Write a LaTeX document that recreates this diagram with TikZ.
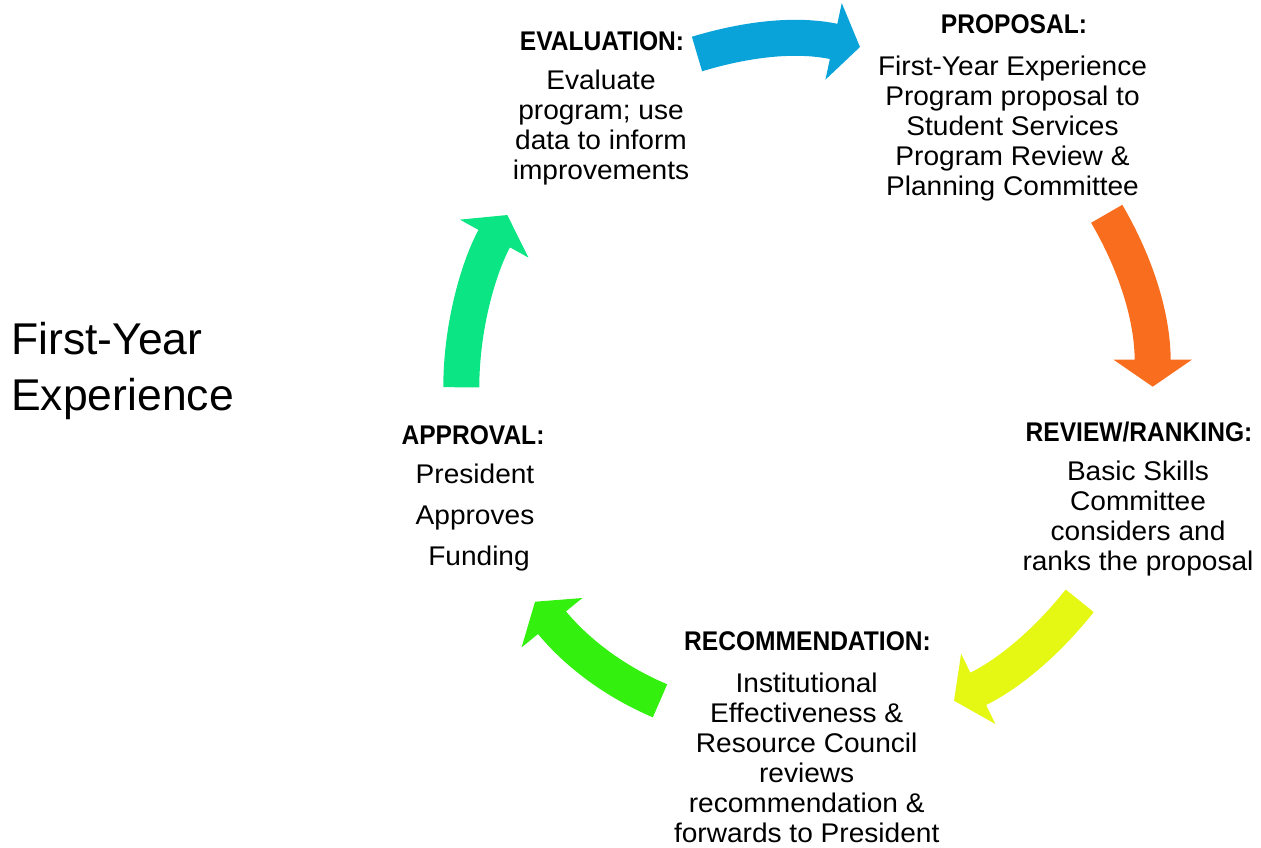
\documentclass[tikz,border=0pt]{standalone}
\usepackage{fontspec}
\setmainfont{Liberation Sans}
\newfontfamily\headfont[FakeStretch=0.91]{Liberation Sans}
\newfontfamily\bodyfont[FakeStretch=1.04]{Liberation Sans}
\usetikzlibrary{arrows.meta}
\definecolor{CycleBlue}{HTML}{0AA3D9}
\definecolor{CycleOrange}{HTML}{F86E1E}
\definecolor{CycleYellow}{HTML}{E4F814}
\definecolor{CycleGreen}{HTML}{33F00F}
\definecolor{CycleTeal}{HTML}{0CE584}
\tikzset{
  heading/.style={font=\headfont\bfseries\fontsize{27}{30}\selectfont, inner sep=0pt, anchor=base},
  body/.style={font=\bodyfont\fontsize{27}{#1}\selectfont, align=center, inner sep=0pt, anchor=base},
  body/.default=30,
  cyclearrow/.style={line width=36pt, -{Triangle[length=27pt,width=77pt]}}
}

\begin{document}
\begin{tikzpicture}[x=1pt, y=-1pt]
\useasboundingbox (0,0) rectangle (1261,847);
% Title (base = last line)
\node[anchor=base west, inner sep=0pt, align=left, font=\fontsize{44.5}{56}\selectfont] (title) at (11,410) {First-Year\\Experience};
% Evaluation
\node[heading] (evalHead) at (602,50) {EVALUATION:};
\node[body] (evalBody) at (601,179.8) {Evaluate\\program; use\\data to inform\\improvements};
% Proposal
\node[heading] (propHead) at (1014,33) {PROPOSAL:};
\node[body] (propBody) at (1012.5,195.8) {First-Year Experience\\Program proposal to\\Student Services\\Program Review \&\\Planning Committee};
% Review / ranking
\node[heading] (revHead) at (1139,441) {REVIEW/RANKING:};
\node[body] (revBody) at (1138,570.8) {Basic Skills\\Committee\\considers and\\ranks the proposal};
% Recommendation
\node[heading] (recHead) at (807.5,650) {RECOMMENDATION:};
\node[body] (recBody) at (806.7,842.8) {Institutional\\Effectiveness \&\\Resource Council\\reviews\\recommendation \&\\forwards to President};
% Approval
\node[heading] (apprHead) at (473,444.5) {APPROVAL:};
\node[body=41] (apprBody) at (475,565.5) {President\\Approves\\\hspace*{8pt}Funding};
% Arrow ends
\coordinate (blueTail) at (697,54);
\coordinate (blueTip) at (860,47);
\coordinate (orangeTail) at (1106.7,213.8);
\coordinate (orangeTip) at (1152.7,386.7);
\coordinate (yellowTail) at (1079.7,600.8);
\coordinate (yellowTip) at (954,700.7);
\coordinate (greenTail) at (660,700.8);
\coordinate (greenTip) at (535,601.7);
\coordinate (tealTail) at (461.3,387.3);
\coordinate (tealTip) at (507.3,215);
% Cycle arrows
\draw[cyclearrow, CycleBlue] (blueTail) .. controls (740,41) and (791.5,32.4) .. (blueTip);
\draw[cyclearrow, CycleOrange] (orangeTail) .. controls (1132,257) and (1152.7,311.7) .. (orangeTip);
\draw[cyclearrow, CycleYellow] (yellowTail) .. controls (1045.5,643.8) and (1007.9,674.4) .. (yellowTip);
\draw[cyclearrow, CycleGreen] (greenTail) .. controls (609.4,679.3) and (572.8,648.3) .. (greenTip);
\draw[cyclearrow, CycleTeal] (tealTail) .. controls (461.3,327.3) and (478.2,267.5) .. (tealTip);
\end{tikzpicture}
\end{document}
